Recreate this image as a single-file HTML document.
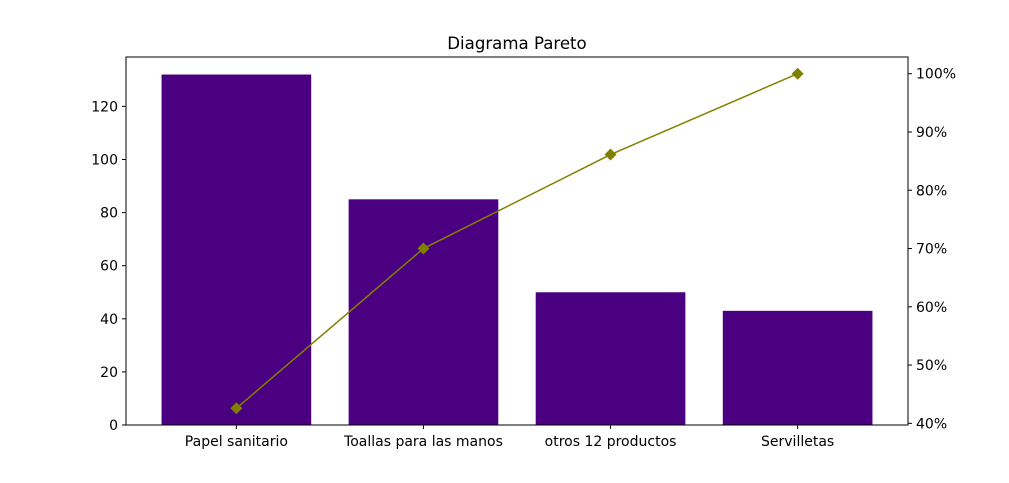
<!DOCTYPE html>
<html><head><meta charset="utf-8">
<style>
html,body{margin:0;padding:0;background:#fff;}
svg text{font-family:"DejaVu Sans","Liberation Sans",sans-serif;font-size:14px;fill:#000;}
</style></head>
<body>
<svg id="chart" width="1009" height="478" xmlns="http://www.w3.org/2000/svg"></svg>
<script>
const categories = ["Papel sanitario","Toallas para las manos","otros 12 productos","Servilletas"];
const counts = [132, 85, 50, 43];
const leftTicks = [0,20,40,60,80,100,120];
const rightTicks = [40,50,60,70,80,90,100];

const NS="http://www.w3.org/2000/svg";
const svg=document.getElementById('chart');
const L=126,R=908,T=57,B=425;
const total=counts.reduce((a,b)=>a+b,0);
let acc=0;
const cumPct=counts.map(v=>{acc+=v;return acc/total*100;});
const yMaxL=Math.max(...counts)*1.05;
const yL=v=>B-(v/yMaxL)*(B-T);
const pMin=Math.min(...cumPct), pMax=Math.max(...cumPct), pr=pMax-pMin;
const pLo=pMin-0.05*pr, pHi=pMax+0.05*pr;
const yR=p=>B-(p-pLo)/(pHi-pLo)*(B-T);
const n=categories.length;
const unit=(R-L)/(n-1+1.18);
const xC=i=>L+(0.59+i)*unit;
const bw=0.8*unit;

function el(tag,attrs,parent){const e=document.createElementNS(NS,tag);for(const k in attrs)e.setAttribute(k,attrs[k]);(parent||svg).appendChild(e);return e;}

const title=el('text',{x:(L+R)/2,y:49,'text-anchor':'middle'});


title.style.fontSize='16.6px';
title.textContent='Diagrama Pareto';

counts.forEach((v,i)=>{
  const r=el('rect',{x:xC(i)-bw/2,y:yL(v),width:bw,height:B-yL(v),fill:'#4b0082'});
  
  
  el('line',{x1:xC(i),x2:xC(i),y1:B,y2:B+4,stroke:'#000','stroke-width':1});
  const t=el('text',{x:xC(i),y:B+21,'text-anchor':'middle'});
  
  
  t.textContent=categories[i];
});

leftTicks.forEach(v=>{
  const y=yL(v);
  el('line',{x1:L-4,x2:L,y1:y,y2:y,stroke:'#000','stroke-width':1});
  const t=el('text',{x:L-8,y:y+5,'text-anchor':'end'});
  
  
  t.textContent=v;
});
rightTicks.forEach(v=>{
  const y=yR(v);
  el('line',{x1:R,x2:R+4,y1:y,y2:y,stroke:'#000','stroke-width':1});
  const t=el('text',{x:R+8,y:y+5,'text-anchor':'start'});
  
  
  t.textContent=v+'%';
});

const pts=cumPct.map((p,i)=>xC(i)+','+yR(p)).join(' ');
const line=el('polyline',{points:pts,fill:'none',stroke:'#808000','stroke-width':1.5});


cumPct.forEach((p,i)=>{
  const x=xC(i),y=yR(p),s=6;
  const m=el('polygon',{points:`${x},${y-s} ${x+s},${y} ${x},${y+s} ${x-s},${y}`,fill:'#808000'});
  
  
});

const frame=el('rect',{x:L,y:T,width:R-L,height:B-T,fill:'none',stroke:'#000','stroke-width':1});


</script>
</body></html>
